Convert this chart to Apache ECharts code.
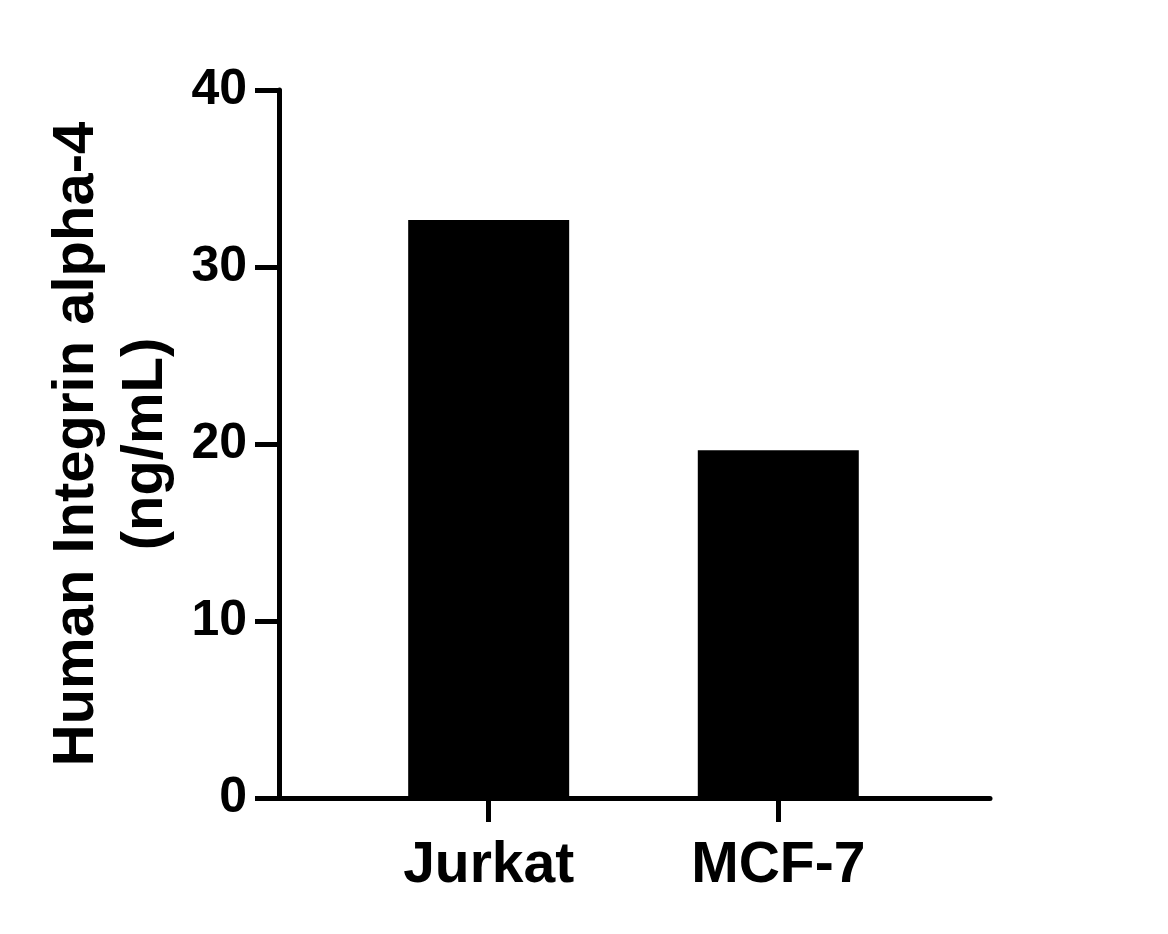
<!DOCTYPE html>
<html>
<head>
<meta charset="utf-8">
<script src="https://cdn.jsdelivr.net/npm/echarts@6/dist/echarts.min.js"></script>
<style>
  html, body { margin: 0; padding: 0; background: #ffffff; }
  #chart { width: 1168px; height: 934px; }
</style>
</head>
<body>
<div id="chart"></div>
<script>
const categories = ['Jurkat', 'MCF-7'];
const categoryPositions = [1, 2];
const values = [32.65, 19.65];
const yTicks = [0, 10, 20, 30, 40];
const yAxisTitle = 'Human Integrin alpha-4\n(ng/mL)';

const font = 'Arial, "Liberation Sans", Helvetica, sans-serif';
const chart = echarts.init(document.getElementById('chart'));
const labelMap = {};
categoryPositions.forEach((p, i) => { labelMap[p] = categories[i]; });

chart.setOption({
  animation: false,
  backgroundColor: '#ffffff',
  grid: { left: 279, right: 178, top: 90, bottom: 136, containLabel: false },
  xAxis: {
    type: 'value',
    min: 0.276,
    max: 2.731,
    splitLine: { show: false },
    axisLine: { show: true, onZero: false, lineStyle: { color: '#000', width: 5 } },
    axisTick: { show: true, length: 24, customValues: categoryPositions, lineStyle: { color: '#000', width: 5 } },
    axisLabel: {
      show: true,
      customValues: categoryPositions,
      formatter: v => labelMap[v] || '',
      color: '#000', fontFamily: font, fontWeight: 'bold', fontSize: 57, margin: 40
    }
  },
  yAxis: {
    type: 'value',
    min: yTicks[0],
    max: yTicks[yTicks.length - 1],
    interval: 10,
    splitLine: { show: false },
    axisLine: { show: true, lineStyle: { color: '#000', width: 5 } },
    axisTick: { show: true, length: 24, lineStyle: { color: '#000', width: 5 } },
    axisLabel: { color: '#000', fontFamily: font, fontWeight: 'bold', fontSize: 50, margin: 32 },
    name: yAxisTitle,
    nameLocation: 'middle',
    nameRotate: 90,
    nameGap: 95,
    nameTextStyle: { color: '#000', fontFamily: font, fontWeight: 'bold', fontSize: 58, lineHeight: 69 }
  },
  series: [{
    type: 'bar',
    data: categoryPositions.map((p, i) => [p, values[i]]),
    barWidth: 161,
    itemStyle: { color: '#000' }
  }]
});
</script>
</body>
</html>
